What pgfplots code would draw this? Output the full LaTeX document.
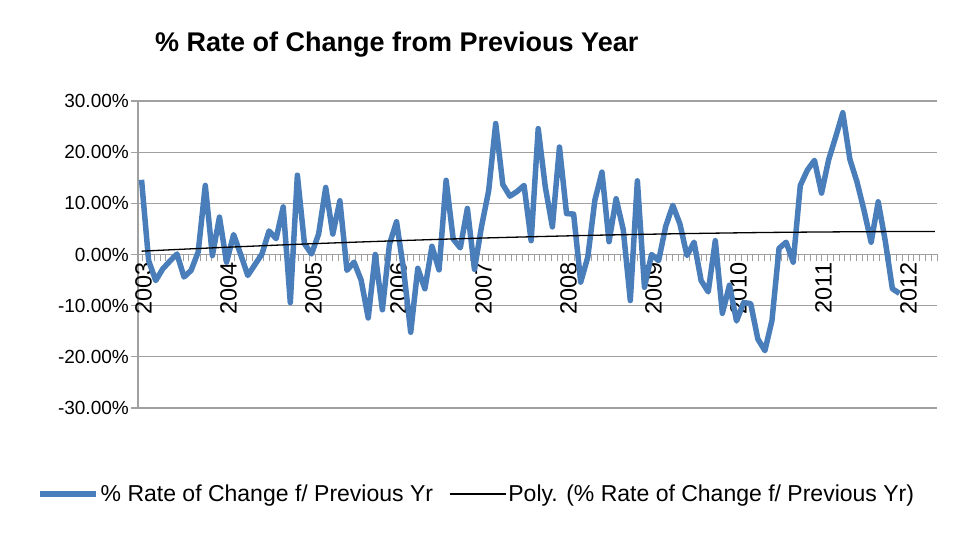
\documentclass[border=0pt]{standalone}
\usepackage{pgfplots}
\pgfplotsset{compat=1.18}
\usepackage{fontspec}
\setmainfont{Liberation Sans}
\definecolor{exblue}{RGB}{74,126,187}
\definecolor{gridgray}{RGB}{160,160,160}
\begin{document}
\begin{tikzpicture}[x=1pt,y=1pt]
\path[use as bounding box] (0,0) rectangle (956,545);
\begin{axis}[
  at={(138pt,137pt)}, anchor=south west,
  scale only axis, width=799pt, height=307pt,
  xmin=-0.5, xmax=112.3, ymin=-30, ymax=30,
  axis x line*=middle, axis y line*=left,
  axis line style={draw=gridgray, line width=1.2pt, -},
  xtick={0,12,...,108},
  xticklabels={2003,2004,2005,2006,2007,2008,2009,2010,2011,2012},
  minor xtick={0.175,0.9875,...,112.4},
  xtick style={draw=none},
  minor x tick style={draw=gridgray, line width=1pt},
  minor tick length=7pt, major tick length=7pt,
  tick align=outside,
  xticklabel style={rotate=90, anchor=east, font=\fontsize{23.5}{23.5}\selectfont, inner sep=1pt, yshift=-2pt},
  ytick={-30,-20,-10,0,10,20,30},
  yticklabels={-30.00\%,-20.00\%,-10.00\%,0.00\%,10.00\%,20.00\%,30.00\%},
  yticklabel style={font=\fontsize{19}{19}\selectfont, inner sep=2pt},
  ytick style={draw=gridgray, line width=1.2pt},
  ymajorgrids, grid style={draw=gridgray, line width=1.2pt},
  legend columns=2,
  legend style={draw=none, fill=none, at={(-0.1264,-0.280)}, anchor=west, inner sep=0pt,
    font=\fontsize{23}{23}\selectfont,
    /tikz/every even column/.append style={column sep=14pt},
    nodes={inner sep=2pt}},
  legend cell align=left,
  legend image code/.code={\draw[#1] (0pt,0pt) -- (56pt,0pt);},
  clip=false,
]
\addplot[color=exblue, line width=5.5pt, line join=round] coordinates {
(0,14.6)(1,-1.2)(2,-5.1)(3,-2.8)(4,-1.3)(5,0.1)(6,-4.4)(7,-3.1)(8,0.5)(9,13.5)
(10,-0.2)(11,7.3)(12,-1.5)(13,3.9)(14,0.0)(15,-4.1)(16,-2.0)(17,0.1)(18,4.6)(19,3.1)
(20,9.3)(21,-9.4)(22,15.5)(23,2.1)(24,0.1)(25,4.0)(26,13.1)(27,4.0)(28,10.5)(29,-3.1)
(30,-1.5)(31,-5.0)(32,-12.4)(33,0.0)(34,-10.8)(35,2.0)(36,6.4)(37,-3.0)(38,-15.2)(39,-2.7)
(40,-6.7)(41,1.6)(42,-3.0)(43,14.5)(44,3.0)(45,1.3)(46,9.0)(47,-2.9)(48,5.5)(49,12.4)
(50,25.6)(51,13.7)(52,11.4)(53,12.3)(54,13.5)(55,2.7)(56,24.6)(57,13.2)(58,5.4)(59,21.0)
(60,8.0)(61,7.9)(62,-5.4)(63,-0.5)(64,10.6)(65,16.1)(66,2.5)(67,10.9)(68,4.9)(69,-9.0)
(70,14.4)(71,-6.4)(72,0.0)(73,-1.2)(74,5.5)(75,9.6)(76,6.0)(77,-0.2)(78,2.4)(79,-5.1)
(80,-7.3)(81,2.7)(82,-11.5)(83,-6.0)(84,-13.0)(85,-9.4)(86,-9.6)(87,-16.5)(88,-18.8)(89,-12.9)
(90,1.2)(91,2.4)(92,-1.5)(93,13.5)(94,16.5)(95,18.4)(96,12.0)(97,18.5)(98,23.0)(99,27.7)
(100,18.6)(101,14.2)(102,8.6)(103,2.4)(104,10.3)(105,2.6)(106,-6.7)(107,-7.6)
};
\addlegendentry{\% Rate of Change f/ Previous Yr}
\addplot[color=black, line width=1.3pt, smooth] coordinates {
(0,0.65)(8,1.17)(16,1.65)(24,2.10)(32,2.50)(40,2.87)(48,3.21)(56,3.50)
(64,3.76)(72,3.97)(80,4.15)(88,4.30)(96,4.40)(104,4.47)(112,4.50)
};
\addlegendentry{Poly. (\% Rate of Change f/ Previous Yr)}
\end{axis}
\node[font=\fontsize{27}{27}\selectfont\bfseries, anchor=west, inner sep=0pt] at (155,500) {\% Rate of Change from Previous Year};
\end{tikzpicture}
\end{document}
